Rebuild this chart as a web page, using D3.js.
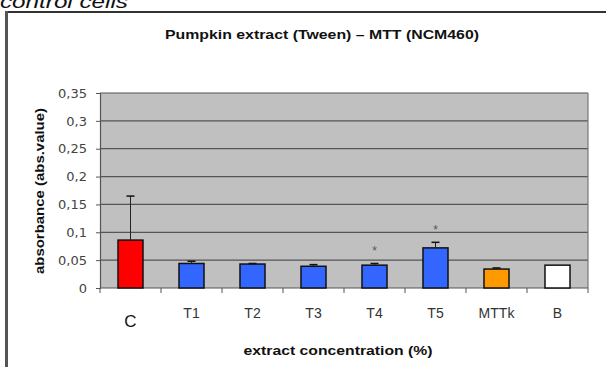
<!DOCTYPE html>
<html>
<head>
<meta charset="utf-8">
<script src="https://cdn.jsdelivr.net/npm/d3@7"></script>
<style>
  html, body { margin: 0; padding: 0; background: #fff; }
  svg { display: block; }
</style>
</head>
<body>
<script>
// Absorbance readings for each treatment group
const categories = ["C", "T1", "T2", "T3", "T4", "T5", "MTTk", "B"];
const means      = [0.086, 0.044, 0.043, 0.039, 0.041, 0.072, 0.034, 0.041];
const errors     = [0.079, 0.004, 0.001, 0.003, 0.003, 0.010, 0.002, 0];
const colors     = ["#ff0000", "#3366ff", "#3366ff", "#3366ff", "#3366ff", "#3366ff", "#ff9900", "#ffffff"];
const marked     = ["T4", "T5"];
const yTicks     = [0, 0.05, 0.1, 0.15, 0.2, 0.25, 0.3, 0.35];
const yTickLabels = ["0", "0,05", "0,1", "0,15", "0,2", "0,25", "0,3", "0,35"];

const W = 606, H = 367;
const plot = { left: 100, right: 588, top: 93, bottom: 288 };

const svg = d3.select("body").append("svg").attr("width", W).attr("height", H);

// caption fragment above the chart frame
svg.append("text")
  .attr("x", 0).attr("y", 8)
  .attr("font-family", "Liberation Sans, Arial, sans-serif")
  .attr("font-size", 18).attr("font-style", "italic")
  .attr("textLength", 128).attr("lengthAdjust", "spacingAndGlyphs")
  .attr("fill", "#111")
  .text("control cells");

// chart frame
svg.append("line").attr("x1", 5).attr("x2", W).attr("y1", 12).attr("y2", 12)
  .attr("stroke", "#333").attr("stroke-width", 2);
svg.append("line").attr("x1", 6.5).attr("x2", 6.5).attr("y1", 11).attr("y2", H)
  .attr("stroke", "#555").attr("stroke-width", 3);

const x = d3.scaleBand().domain(categories).range([plot.left, plot.right]).paddingInner(0.59).paddingOuter(0.295);
const xTicks = d3.scaleBand().domain(categories).range([plot.left, plot.right]);
const y = d3.scaleLinear().domain([0, 0.35]).range([plot.bottom, plot.top]);

// plot background
svg.append("rect")
  .attr("x", plot.left).attr("y", plot.top)
  .attr("width", plot.right - plot.left).attr("height", plot.bottom - plot.top)
  .attr("fill", "#c0c0c0");

// horizontal gridlines
svg.append("g").selectAll("line").data(yTicks.slice(1)).join("line")
  .attr("x1", plot.left).attr("x2", plot.right)
  .attr("y1", d => y(d)).attr("y2", d => y(d))
  .attr("stroke", "#555").attr("stroke-width", 1.2);

// right border of plot area
svg.append("line").attr("x1", plot.right).attr("x2", plot.right)
  .attr("y1", plot.top).attr("y2", plot.bottom)
  .attr("stroke", "#777").attr("stroke-width", 1.2);

// y axis
const yAxis = d3.axisLeft(y).tickValues(yTicks)
  .tickFormat((d, i) => yTickLabels[i]).tickSize(4).tickPadding(9);
const gy = svg.append("g").attr("transform", `translate(${plot.left},0)`).call(yAxis);
gy.select(".domain").attr("stroke", "#555").attr("stroke-width", 1.2);
gy.selectAll(".tick line").attr("stroke", "#555");
gy.selectAll(".tick text")
  .attr("font-family", "DejaVu Sans, sans-serif")
  .attr("font-size", 13).attr("fill", "#444");

// x axis (ticks at band boundaries)
const boundaries = categories.map(c => xTicks(c)).concat([plot.right]);
svg.append("line").attr("x1", plot.left).attr("x2", plot.right)
  .attr("y1", plot.bottom).attr("y2", plot.bottom)
  .attr("stroke", "#555").attr("stroke-width", 1.2);
svg.append("g").selectAll("line").data(boundaries).join("line")
  .attr("x1", d => d).attr("x2", d => d)
  .attr("y1", plot.bottom).attr("y2", plot.bottom + 5)
  .attr("stroke", "#555");

svg.append("g").selectAll("text").data(categories).join("text")
  .attr("x", d => xTicks(d) + xTicks.bandwidth() / 2)
  .attr("y", d => d === "C" ? 327 : 318)
  .attr("text-anchor", "middle")
  .attr("font-family", "Liberation Sans, Arial, sans-serif")
  .attr("font-size", d => d === "C" ? 17 : 14)
  .attr("fill", d => d === "C" ? "#111" : "#333")
  .text(d => d);

// bars
const data = categories.map((c, i) => ({ c, v: means[i], e: errors[i], col: colors[i] }));
svg.append("g").selectAll("rect").data(data).join("rect")
  .attr("x", d => x(d.c)).attr("width", x.bandwidth())
  .attr("y", d => y(d.v)).attr("height", d => y(0) - y(d.v))
  .attr("fill", d => d.col)
  .attr("stroke", "#111").attr("stroke-width", 1.5);

// error bars (upper half only)
const eb = svg.append("g").selectAll("g").data(data.filter(d => d.e > 0)).join("g");
eb.append("line")
  .attr("x1", d => x(d.c) + x.bandwidth() / 2).attr("x2", d => x(d.c) + x.bandwidth() / 2)
  .attr("y1", d => y(d.v)).attr("y2", d => y(d.v + d.e))
  .attr("stroke", "#222").attr("stroke-width", 1);
eb.append("line")
  .attr("x1", d => x(d.c) + x.bandwidth() / 2 - 4).attr("x2", d => x(d.c) + x.bandwidth() / 2 + 4)
  .attr("y1", d => y(d.v + d.e)).attr("y2", d => y(d.v + d.e))
  .attr("stroke", "#111").attr("stroke-width", 1.5);

// significance markers
svg.append("g").selectAll("text").data(data.filter(d => marked.includes(d.c))).join("text")
  .attr("x", d => x(d.c) + x.bandwidth() / 2)
  .attr("y", d => y(d.v + d.e) - 8)
  .attr("text-anchor", "middle")
  .attr("font-family", "Liberation Sans, Arial, sans-serif")
  .attr("font-size", 12).attr("fill", "#555")
  .text("*");

// chart title
svg.append("text")
  .attr("x", 322).attr("y", 39)
  .attr("text-anchor", "middle")
  .attr("font-family", "Liberation Sans, Arial, sans-serif")
  .attr("font-size", 13).attr("font-weight", "bold")
  .attr("textLength", 314).attr("lengthAdjust", "spacingAndGlyphs")
  .attr("fill", "#111")
  .text("Pumpkin extract (Tween) – MTT (NCM460)");

// axis titles
svg.append("text")
  .attr("transform", "translate(44,191) rotate(-90)")
  .attr("text-anchor", "middle")
  .attr("font-family", "Liberation Sans, Arial, sans-serif")
  .attr("font-size", 13).attr("font-weight", "bold")
  .attr("textLength", 166).attr("lengthAdjust", "spacingAndGlyphs")
  .attr("fill", "#111")
  .text("absorbance (abs.value)");

svg.append("text")
  .attr("x", 338).attr("y", 355)
  .attr("text-anchor", "middle")
  .attr("font-family", "Liberation Sans, Arial, sans-serif")
  .attr("font-size", 13).attr("font-weight", "bold")
  .attr("textLength", 189).attr("lengthAdjust", "spacingAndGlyphs")
  .attr("fill", "#111")
  .text("extract concentration (%)");
</script>
</body>
</html>
